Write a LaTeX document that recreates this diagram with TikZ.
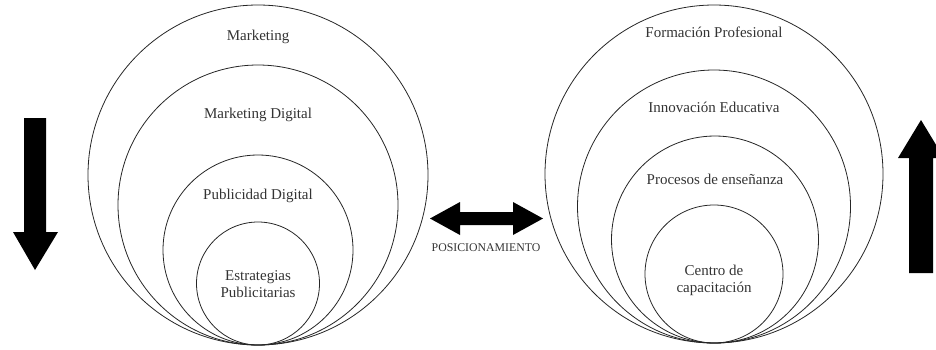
\documentclass[tikz,border=0pt]{standalone}
\usepackage{fontspec}
\setmainfont{Liberation Serif}
\usetikzlibrary{positioning}
\tikzset{
  ring/.style={draw=black!85, circle, line width=0.8pt, inner sep=0pt},
  lbl/.style={align=center, text=black!80, font=\fontsize{15}{17}\selectfont},
  blockarrow/.style={fill=black},
}

\begin{document}
\begin{tikzpicture}[x=1pt, y=-1pt]
  \clip (0,0) rectangle (936,349);

  % left group
  \node[ring, minimum size=340pt] (mk)  at (258,175)   {};
  \node[ring, minimum size=280pt] (mkd) at (258,205)   {};
  \node[ring, minimum size=190pt] (pub) at (258,250)   {};
  \node[ring, minimum size=123pt] (est) at (258,283.5) {};

  \node[lbl] (mkl)  at ([yshift=-32pt]mk.north)  {Marketing};
  \node[lbl] (mkdl) at ([yshift=-50pt]mkd.north) {Marketing Digital};
  \node[lbl] (publ) at ([yshift=-41pt]pub.north) {Publicidad Digital};
  \node[lbl] (estl) at ([yshift=-1pt]est.center) {Estrategias\\Publicitarias};

  % right group
  \node[ring, minimum size=338pt] (fp)  at (714,174)   {};
  \node[ring, minimum size=273pt] (ie)  at (714,206.5) {};
  \node[ring, minimum size=207pt] (pe)  at (715,239.5) {};
  \node[ring, minimum size=138pt] (cc)  at (714,274)   {};

  \node[lbl] (fpl) at ([yshift=-28pt]fp.north) {Formación Profesional};
  \node[lbl] (iel) at ([yshift=-38pt]ie.north) {Innovación Educativa};
  \node[lbl] (pel) at ([yshift=-44pt]pe.north) {Procesos de enseñanza};
  \node[lbl] (ccl) at ([yshift=-6pt]cc.center) {Centro de\\capacitación};

  % block arrows
  \fill[blockarrow] (24,118) -- (46,118) -- (46,232) -- (58,232) -- (35,270)
                    -- (13,232) -- (24,232) -- cycle;
  \fill[blockarrow] (909,273) -- (933,273) -- (933,158) -- (944,158) -- (921,120)
                    -- (898,158) -- (909,158) -- cycle;
  \fill[blockarrow] (430,218.5) -- (460,202) -- (460,212) -- (513,212) -- (513,202)
                    -- (543,218.5) -- (513,235) -- (513,225) -- (460,225) -- (460,235) -- cycle;

  \node[font=\fontsize{11.8}{13}\selectfont, text=black!80] (pos) at (486,248) {POSICIONAMIENTO};
\end{tikzpicture}
\end{document}
